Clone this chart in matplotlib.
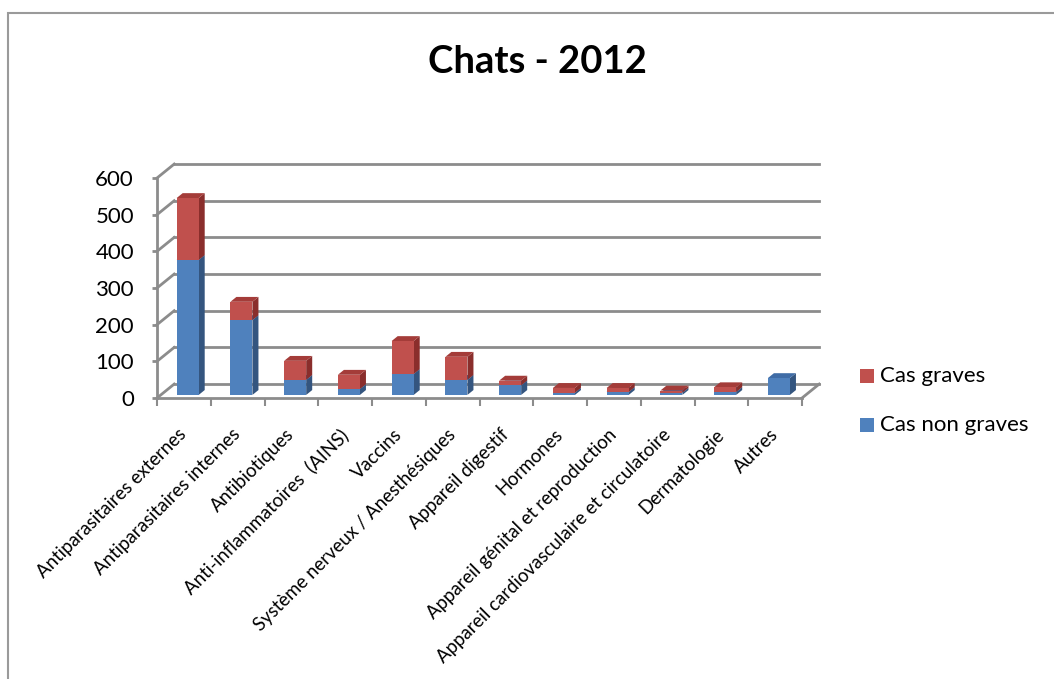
import matplotlib
matplotlib.use("Agg")
import matplotlib.pyplot as plt
from matplotlib.patches import Polygon, Rectangle
import numpy as np

plt.rcParams['font.family'] = ['Lato', 'DejaVu Sans']

categories = ["Antiparasitaires externes", "Antiparasitaires internes", "Antibiotiques",
              "Anti-inflammatoires  (AINS)", "Vaccins", "Système nerveux / Anesthésiques",
              "Appareil digestif", "Hormones", "Appareil génital et reproduction",
              "Appareil cardiovasculaire et circulatoire", "Dermatologie", "Autres"]
non_graves = [368, 204, 41, 16, 57, 41, 26, 6, 8, 6, 8, 46]
graves = [169, 50, 52, 39, 90, 63, 13, 13, 11, 6, 13, 0]
yticks = [0, 100, 200, 300, 400, 500, 600]

BLUE, BLUE_SIDE, BLUE_TOP = "#4F81BD", "#34557F", "#3F6CA6"
RED, RED_SIDE, RED_TOP = "#C0504D", "#8A2E2C", "#A43C39"
GRID = "#8C8C8C"

W, H = 1054, 679
fig = plt.figure(figsize=(W / 100, H / 100), dpi=100)
# front plane: x 157..802 px, y 398 (0) .. 178 (600) px
ax = fig.add_axes([157 / W, (H - 398) / H, (802 - 157) / W, (398 - 178) / H])
n = len(categories)
ax.set_xlim(0, n)
ax.set_ylim(0, 600)

# depth of the 3d box (data units)
DX, DY = 0.32, 38.0

for s in ["top", "right"]:
    ax.spines[s].set_visible(False)
for s in ["left", "bottom"]:
    ax.spines[s].set_color(GRID)
    ax.spines[s].set_linewidth(2)
ax.set_yticks(yticks)
ax.set_yticklabels([str(v) for v in yticks], fontsize=16)
ax.set_xticks(np.arange(n + 1))
ax.set_xticklabels([])
ax.tick_params(axis="y", length=3.6, width=2, color=GRID, pad=13)
ax.tick_params(axis="x", length=6, width=1.5, color=GRID)

# back wall gridlines, left wall diagonals, floor
for v in yticks:
    ax.plot([DX, n + DX], [v + DY, v + DY], color=GRID, lw=2, clip_on=False, zorder=1)
    ax.plot([0, DX], [v, v + DY], color=GRID, lw=2, clip_on=False, zorder=1)
ax.plot([n, n + DX], [0, DY], color=GRID, lw=2, clip_on=False, zorder=1)

# bars
f1, f2 = 0.22, 0.57
bw = 0.41
x = np.arange(n) + 0.5 + f1 * DX
y0 = f1 * DY
ax.bar(x, non_graves, bw, bottom=y0, color=BLUE, zorder=3)
ax.bar(x, graves, bw, bottom=y0 + np.array(non_graves), color=RED, zorder=5)

ddx, ddy = (f2 - f1) * DX, (f2 - f1) * DY
for i in range(n):
    xr = x[i] + bw / 2
    xl = x[i] - bw / 2
    segs = [(0, non_graves[i], BLUE_SIDE, BLUE_TOP, 2),
            (non_graves[i], non_graves[i] + graves[i], RED_SIDE, RED_TOP, 4)]
    for b, t, cs, ct, z in segs:
        if t - b <= 0:
            continue
        b, t = b + y0, t + y0
        ax.add_patch(Polygon([(xr, b), (xr + ddx, b + ddy), (xr + ddx, t + ddy), (xr, t)],
                             closed=True, facecolor=cs, edgecolor="none", zorder=z, clip_on=False))
        ax.add_patch(Polygon([(xl, t), (xr, t), (xr + ddx, t + ddy), (xl + ddx, t + ddy)],
                             closed=True, facecolor=ct, edgecolor="none", zorder=z, clip_on=False))

# category labels
for i, lab in enumerate(categories):
    ax.text(i + 0.5, -92, lab, rotation=45, ha="right", va="center",
            rotation_mode="anchor", fontsize=13.4, color="black")

fig.text(537 / W, 1 - 62 / H, "Chats - 2012", ha="center", va="center",
         fontsize=27.5, fontweight="bold")

# legend
for yy, col, lab in [(376, RED, "Cas graves"), (425, BLUE, "Cas non graves")]:
    fig.patches.append(Rectangle((860 / W, 1 - (yy + 7) / H), 14 / W, 14 / H,
                                 transform=fig.transFigure, facecolor=col, edgecolor="none"))
    fig.text(880 / W, 1 - yy / H, lab, ha="left", va="center", fontsize=16)

# chart border
fig.patches.append(Rectangle((8 / W, -0.05), 1.1, 1 - 13 / H + 0.05, transform=fig.transFigure,
                             facecolor="none", edgecolor="#9A9A9A", lw=1.5))

fig.savefig("out.png", dpi=100)
